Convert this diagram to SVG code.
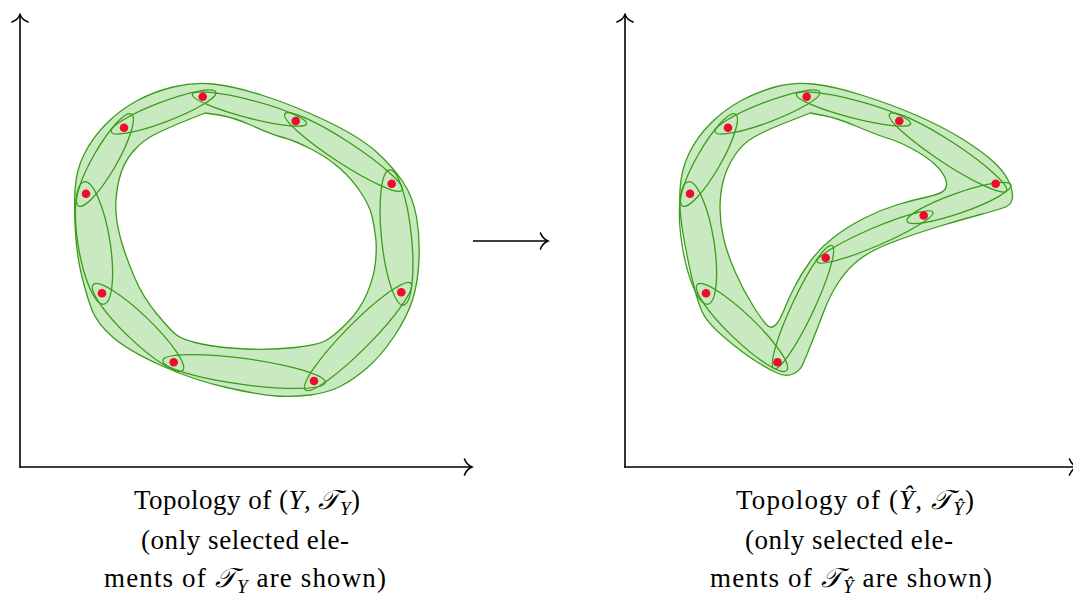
<svg xmlns="http://www.w3.org/2000/svg" width="1073" height="596" viewBox="0 0 1073 596">
<defs>
<style>
.blob{fill:#c9eac0;stroke:#3a9c18;stroke-width:1.3;fill-rule:evenodd;stroke-linejoin:round}
.ell{fill:none;stroke:#3a9c18;stroke-width:1.3}
.dot{fill:#f00a2e;stroke:none}
.axis{fill:none;stroke:#000;stroke-width:1.6;marker-end:url(#arr)}
text{font-family:'Liberation Serif','Times New Roman',serif;font-size:27px;fill:#000}
.it{font-style:italic}
.sub{font-size:19px}
.cal{font-family:'DejaVu Serif','DejaVu Sans','Noto Sans',serif;font-style:italic}
</style>
<marker id="arr" viewBox="-10 -10 12 20" markerUnits="userSpaceOnUse" markerWidth="12" markerHeight="20" refX="0" refY="0" orient="auto">
<path d="M -7.5,-8 C -6,-4 -2.5,-1 0,0 C -2.5,1 -6,4 -7.5,8" fill="none" stroke="#000" stroke-width="1.6" stroke-linecap="round"/>
</marker>
</defs>
<rect width="1073" height="596" fill="#fff"/>

<g id="connectors">
<path class="axis" d="M 20,467.8 L 20,14.5"/>
<path class="axis" d="M 19.2,467 L 472,467"/>
<path class="axis" d="M 473,241 L 548,241"/>
<path class="axis" d="M 625,467.8 L 625,14.5"/>
<path class="axis" d="M 624.2,467 L 1077,467"/>
</g>

<g id="left-space">
<path class="blob" d="M 173,87 Q 193,82 213,84 Q 233,86 263,95.5 Q 293,105 326.5,121 Q 360,137 376.5,152 Q 393,167 403,182 Q 413,197 416.5,217 Q 420,237 419,260 Q 418,283 412.5,300 Q 407,317 394,336.5 Q 381,356 367,368 Q 353,380 340,386.5 Q 327,393 310,395 Q 293,397 276.5,396 Q 260,395 226.5,387.5 Q 193,380 160,365 Q 127,350 112,336.5 Q 97,323 92,310 Q 87,297 82,277 Q 77,257 75.5,233.5 Q 74,210 75,190 Q 76,170 84.5,153.5 Q 93,137 106.5,123.5 Q 120,110 136.5,101 Q 153,92 173,87 Z M 205,113 L 219,115 Q 233,117 253,126 Q 273,135 283,137.5 Q 293,140 310,148.5 Q 327,157 340,168.5 Q 353,180 361.5,193.5 Q 370,207 372,216 Q 374,225 375.5,236 Q 377,247 375.5,262 Q 374,277 367,293.5 Q 360,310 346.5,323.5 Q 333,337 325,341 Q 317,345 295,347.5 Q 273,350 246.5,349 Q 220,348 201.5,344 Q 183,340 176.5,335 Q 170,330 156.5,313.5 Q 143,297 135,278.5 Q 127,260 122,243.5 Q 117,227 116,212 Q 115,197 119,180 Q 123,163 133,151.5 Q 143,140 156.5,133.5 Q 170,127 187.5,120 L 205,113 Z"/>
<g id="left-sets">
<ellipse class="ell" cx="105" cy="160" rx="53" ry="12" transform="rotate(-60.1 105 160)"/>
<ellipse class="ell" cx="163.5" cy="112" rx="56" ry="10" transform="rotate(-20.8 163.5 112)"/>
<ellipse class="ell" cx="249.5" cy="109" rx="59" ry="9" transform="rotate(14.5 249.5 109)"/>
<ellipse class="ell" cx="343.5" cy="152" rx="70" ry="11" transform="rotate(33.1 343.5 152)"/>
<ellipse class="ell" cx="396.5" cy="237.5" rx="68" ry="15" transform="rotate(84.2 396.5 237.5)"/>
<ellipse class="ell" cx="358" cy="336.5" rx="75" ry="13" transform="rotate(134.7 358 336.5)"/>
<ellipse class="ell" cx="244" cy="371.5" rx="82" ry="13" transform="rotate(7.7 244 371.5)"/>
<ellipse class="ell" cx="138" cy="327.5" rx="62" ry="13" transform="rotate(43.8 138 327.5)"/>
<ellipse class="ell" cx="94" cy="243" rx="62" ry="16" transform="rotate(80.9 94 243)"/>
</g>
<g id="left-points">
<circle class="dot" cx="124" cy="127.7" r="4.3"/>
<circle class="dot" cx="202.7" cy="96.7" r="4.3"/>
<circle class="dot" cx="295.7" cy="121" r="4.3"/>
<circle class="dot" cx="391.7" cy="183.7" r="4.3"/>
<circle class="dot" cx="401.3" cy="292.3" r="4.3"/>
<circle class="dot" cx="314" cy="381" r="4.3"/>
<circle class="dot" cx="173.7" cy="362.3" r="4.3"/>
<circle class="dot" cx="102" cy="293.3" r="4.3"/>
<circle class="dot" cx="86" cy="193.7" r="4.3"/>
</g>
</g>

<g id="right-space">
<path class="blob" d="M 775,87 Q 793,82 813,84 Q 833,86 863,95.5 Q 893,105 918,116 Q 943,127 961.5,138.5 Q 980,150 991.5,160 Q 1003,170 1008,180 Q 1013,190 1012.5,197 Q 1012,204 1006.5,206.5 Q 1001,209 980.5,214.5 Q 960,220 937,227 Q 914,234 893,242 Q 872,250 860,259 Q 848,268 839,281.5 Q 830,295 824,311 Q 818,327 812,342 Q 806,357 803,364 Q 800,371 793,374 Q 786,377 777,373 Q 768,369 755.5,361 Q 743,353 725,338 Q 707,323 702,311.5 Q 697,300 692,278.5 Q 687,257 683,233.5 Q 679,210 680,190 Q 681,170 689,153.5 Q 697,137 710.5,123.5 Q 724,110 740.5,101 Q 757,92 775,87 Z M 810,113 L 823.5,115.5 Q 837,118 857,126.5 Q 877,135 888.5,138.5 Q 900,142 913.5,149.5 Q 927,157 935,164.5 Q 943,172 945.5,179 Q 948,186 944.5,190 Q 941,194 927,197 Q 913,200 896.5,205 Q 880,210 863.5,218.5 Q 847,227 833.5,237.5 Q 820,248 810.5,261 Q 801,274 794.5,287 Q 788,300 784,310 Q 780,320 776,324.5 Q 772,329 768,326 Q 764,323 753.5,306.5 Q 743,290 735,271.5 Q 727,253 723.5,238 Q 720,223 720,208 Q 720,193 723.5,180 Q 727,167 735,155 Q 743,143 755,136.5 Q 767,130 778.5,125.5 Q 790,121 800,117 L 810,113 Z"/>
<g id="right-sets">
<ellipse class="ell" cx="709" cy="160" rx="53" ry="12" transform="rotate(-60.1 709 160)"/>
<ellipse class="ell" cx="767.5" cy="112" rx="56" ry="10" transform="rotate(-20.8 767.5 112)"/>
<ellipse class="ell" cx="853.5" cy="109" rx="59" ry="9" transform="rotate(14.5 853.5 109)"/>
<ellipse class="ell" cx="948" cy="152.5" rx="70" ry="11" transform="rotate(33.3 948 152.5)"/>
<ellipse class="ell" cx="959" cy="203" rx="55" ry="10" transform="rotate(-19.3 959 203)"/>
<ellipse class="ell" cx="875" cy="237" rx="63" ry="9" transform="rotate(-23.2 875 237)"/>
<ellipse class="ell" cx="803" cy="307" rx="68" ry="11" transform="rotate(-64.8 803 307)"/>
<ellipse class="ell" cx="742" cy="327.5" rx="62" ry="13" transform="rotate(43.8 742 327.5)"/>
<ellipse class="ell" cx="698" cy="243" rx="62" ry="16" transform="rotate(80.9 698 243)"/>
</g>
<g id="right-points">
<circle class="dot" cx="728" cy="127.7" r="4.3"/>
<circle class="dot" cx="806.7" cy="96.7" r="4.3"/>
<circle class="dot" cx="899.3" cy="121" r="4.3"/>
<circle class="dot" cx="995.7" cy="183.7" r="4.3"/>
<circle class="dot" cx="923.7" cy="215.5" r="4.3"/>
<circle class="dot" cx="825.7" cy="257.7" r="4.3"/>
<circle class="dot" cx="777.5" cy="362.3" r="4.3"/>
<circle class="dot" cx="706" cy="293.3" r="4.3"/>
<circle class="dot" cx="690" cy="193.7" r="4.3"/>
</g>
</g>

<g id="caption-left">
<text x="247" y="509" text-anchor="middle" textLength="226" lengthAdjust="spacing">Topology of (<tspan class="it">Y</tspan>, <tspan class="cal">𝒯</tspan><tspan class="it sub" dy="6">Y</tspan><tspan dy="-6">)</tspan></text>
<text x="245" y="549" text-anchor="middle" textLength="208" lengthAdjust="spacing">(only selected ele-</text>
<text x="245" y="587" text-anchor="middle" textLength="282" lengthAdjust="spacing">ments of <tspan class="cal">𝒯</tspan><tspan class="it sub" dy="6">Y</tspan><tspan dy="-6"> are shown)</tspan></text>
</g>

<g id="caption-right">
<text x="855" y="509" text-anchor="middle" textLength="238" lengthAdjust="spacing">Topology of (<tspan class="it">Ŷ</tspan>, <tspan class="cal">𝒯</tspan><tspan class="it sub" dy="6">Ŷ</tspan><tspan dy="-6">)</tspan></text>
<text x="849" y="549" text-anchor="middle" textLength="208" lengthAdjust="spacing">(only selected ele-</text>
<text x="851" y="587" text-anchor="middle" textLength="282" lengthAdjust="spacing">ments of <tspan class="cal">𝒯</tspan><tspan class="it sub" dy="6">Ŷ</tspan><tspan dy="-6"> are shown)</tspan></text>
</g>
</svg>
